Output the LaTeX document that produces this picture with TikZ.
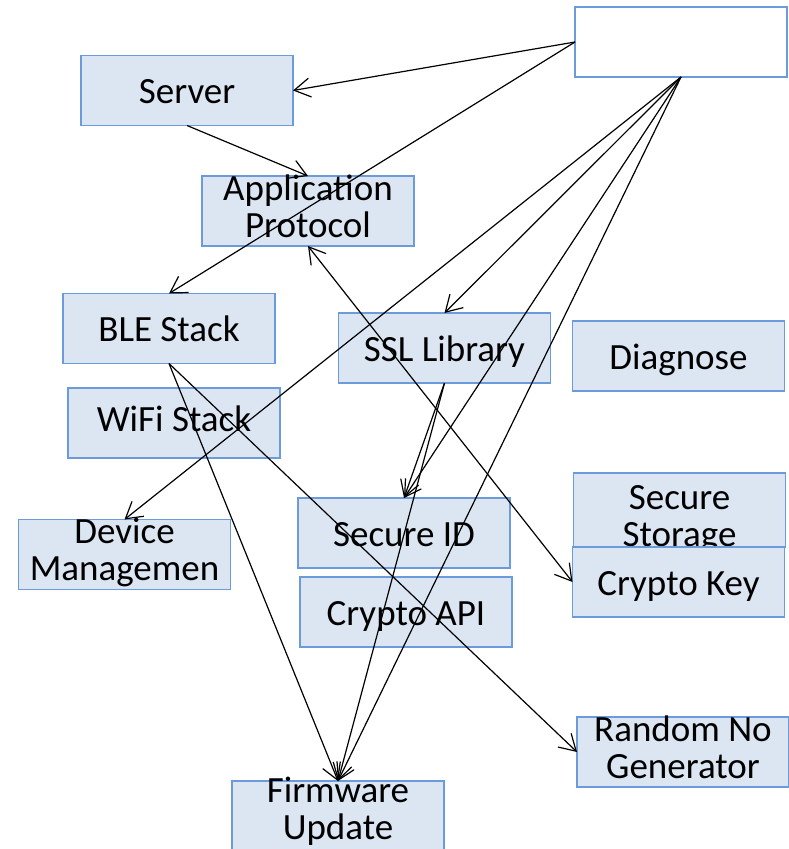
\documentclass[tikz,border=0pt]{standalone}
\usepackage{fontspec}
\setmainfont{Carlito}
\usetikzlibrary{arrows.meta}
\definecolor{fwFill}{HTML}{DCE6F2}
\definecolor{fwEdge}{HTML}{6C9BDB}
\definecolor{fwInk}{HTML}{000000}
\tikzset{
  fwbox/.style={rectangle,draw=fwEdge,line width=1.5pt,fill=fwFill,text=fwInk,font=\fontsize{37pt}{37pt}\selectfont,align=center,inner sep=0pt,outer sep=0pt,minimum width=212pt,minimum height=70pt,text height=48pt,text depth=22pt},
  fwtwo/.style={text height=61pt,text depth=9pt},
  fwblank/.style={fwbox,fill=white},
  fwlink/.style={->,draw=black,line width=1.2pt},
  >={Straight Barb[length=16pt,width=19pt]}
}

\begin{document}
\begin{tikzpicture}[x=1pt,y=-1pt]
\useasboundingbox (0,0) rectangle (788,849);

% ---- BOXES ----
\node[fwblank] (hub) at (681,42) {};
\node[fwbox] (server) at (187,90.5) {Server};
\node[fwbox,fwtwo] (app) at (308,211) {Application\\Protocol};
\node[fwbox] (ble) at (169,328.5) {BLE Stack};
\node[fwbox,text height=43pt,text depth=27pt] (wifi) at (174,423) {WiFi Stack};
\node[fwbox] (ssl) at (444.5,348) {SSL Library};
\node[fwbox] (diag) at (678.5,356) {Diagnose};
\node[fwbox,fwtwo] (dev) at (124.5,554.5) {Device\\Managemen};
\node[fwbox] (sid) at (404,533) {Secure ID};
\node[fwbox] (capi) at (406,612) {Crypto API};
\node[fwbox,minimum height=74pt,text height=73pt,text depth=1pt] (stor) at (679.5,510) {Secure\\Storage};
\node[fwbox] (ckey) at (678.5,582) {Crypto Key};
\node[fwbox,fwtwo] (rng) at (683,752) {Random No\\Generator};
\node[fwbox,text height=58pt,text depth=12pt] (fw) at (338,816) {Firmware\\Update};

% ---- LINKS FROM THE BLANK BOX ----
\draw[fwlink] (hub.west) -- (server.east);
\draw[fwlink] (hub.west) -- (ble.north);
\draw[fwlink] (hub.south) -- (dev.north);
\draw[fwlink] (hub.south) -- (ssl.north);
\draw[fwlink] (hub.south) -- (sid.north);
\draw[fwlink] (hub.south) -- (fw.north);

% ---- OTHER LINKS ----
\draw[fwlink] (server.south) -- (app.north);
\draw[fwlink] (ssl.south) -- (sid.north);
\draw[fwlink] (ssl.south) -- (fw.north);
\draw[fwlink] (ble.south) -- (fw.north);
\draw[fwlink] (ble.south) -- (rng.west);
\draw[fwlink,<->] (app.south) -- (ckey.west);

\end{tikzpicture}
\end{document}
